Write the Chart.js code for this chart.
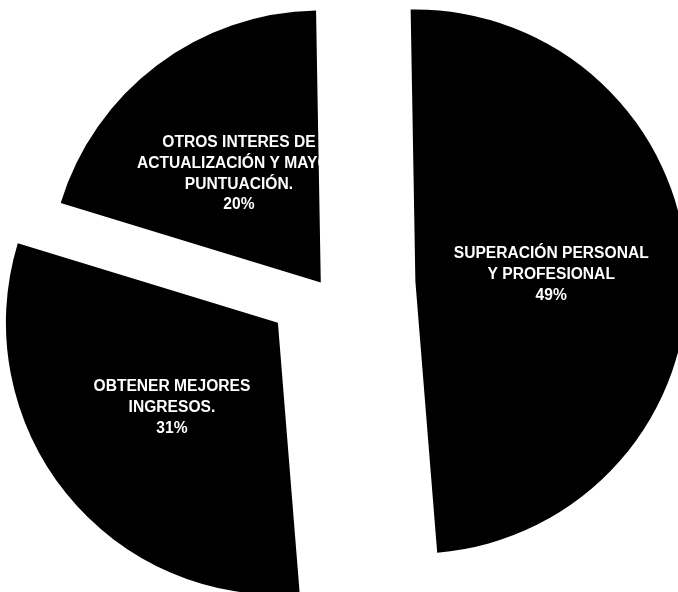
<!DOCTYPE html>
<html lang="es">
<head>
<meta charset="utf-8">
<title>Motivos</title>
<script src="https://cdn.jsdelivr.net/npm/chart.js@4.4.0/dist/chart.umd.min.js"></script>
<style>
  html, body { margin: 0; padding: 0; background: #fff; }
  #contenedorMotivos { width: 678px; height: 592px; position: relative; }
</style>
</head>
<body>
<div id="contenedorMotivos"><canvas id="graficoMotivos"></canvas></div>
<script>
// ===================================== Datos del gráfico ==================
var motivos = [
  ["SUPERACIÓN PERSONAL", "Y PROFESIONAL"],
  ["OBTENER MEJORES", "INGRESOS."],
  ["OTROS INTERES DE", "ACTUALIZACIÓN Y MAYOR", "PUNTUACIÓN."]
];
var porcentajes = [49, 31, 20];

// ===================================== Chart.js agranda el radio de un sector separado, se deshace ==================
var ajusteRadio = {
  id: "ajusteRadio",
  afterDatasetsUpdate(chart) {
    const meta = chart.getDatasetMeta(0);
    const radio = meta.controller.outerRadius;
    meta.data.forEach(arco => {
      const extra = (arco.options.offset || 0) / 4 * (1 - Math.sin(Math.min(Math.PI, arco.circumference)));
      const giro = extra / (2 * Math.PI * radio);
      arco.outerRadius = radio - extra;
      arco.startAngle -= giro;
      arco.endAngle += giro;
    });
  }
};

// ===================================== Textos blancos dentro de cada sector ==================
var textosSectores = {
  id: "textosSectores",
  afterDatasetsDraw(chart) {
    const ctx = chart.ctx;
    const meta = chart.getDatasetMeta(0);
    const radio = meta.controller.outerRadius;
    const alto = 20.8;
    ctx.save();
    ctx.fillStyle = "#fff";
    ctx.font = "bold 15.6px 'Liberation Sans', Arial, sans-serif";
    ctx.textAlign = "center";
    ctx.textBaseline = "middle";
    meta.data.forEach((arco, i) => {
      const medio = (arco.startAngle + arco.endAngle) / 2;
      const dist = radio / 2 + (arco.options.offset || 0) / 4;
      const x = arco.x + Math.cos(medio) * dist;
      const y = arco.y + Math.sin(medio) * dist;
      const lineas = motivos[i].concat([porcentajes[i] + "%"]);
      const y0 = y - (lineas.length - 1) * alto / 2;
      lineas.forEach((t, j) => ctx.fillText(t, x, y0 + j * alto));
    });
    ctx.restore();
  }
};

var chartMotivos = new Chart(
  document.getElementById("graficoMotivos"),
  {
    type: "pie",
    data: {
      labels: motivos.map(m => m.join(" ")),
      datasets: [{
        data: porcentajes,
        backgroundColor: "#000",
        borderWidth: 0,
        offset: [368, 234, 18]
      }]
    },
    options: {
      responsive: true,
      maintainAspectRatio: false,
      animation: false,
      events: [],
      rotation: -1,
      radius: 272,
      layout: { padding: { left: 0, right: 31, top: 0, bottom: 20 } },
      plugins: {
        legend: { display: false },
        tooltip: { enabled: false }
      }
    },
    plugins: [ajusteRadio, textosSectores]
  }
);
</script>
</body>
</html>
